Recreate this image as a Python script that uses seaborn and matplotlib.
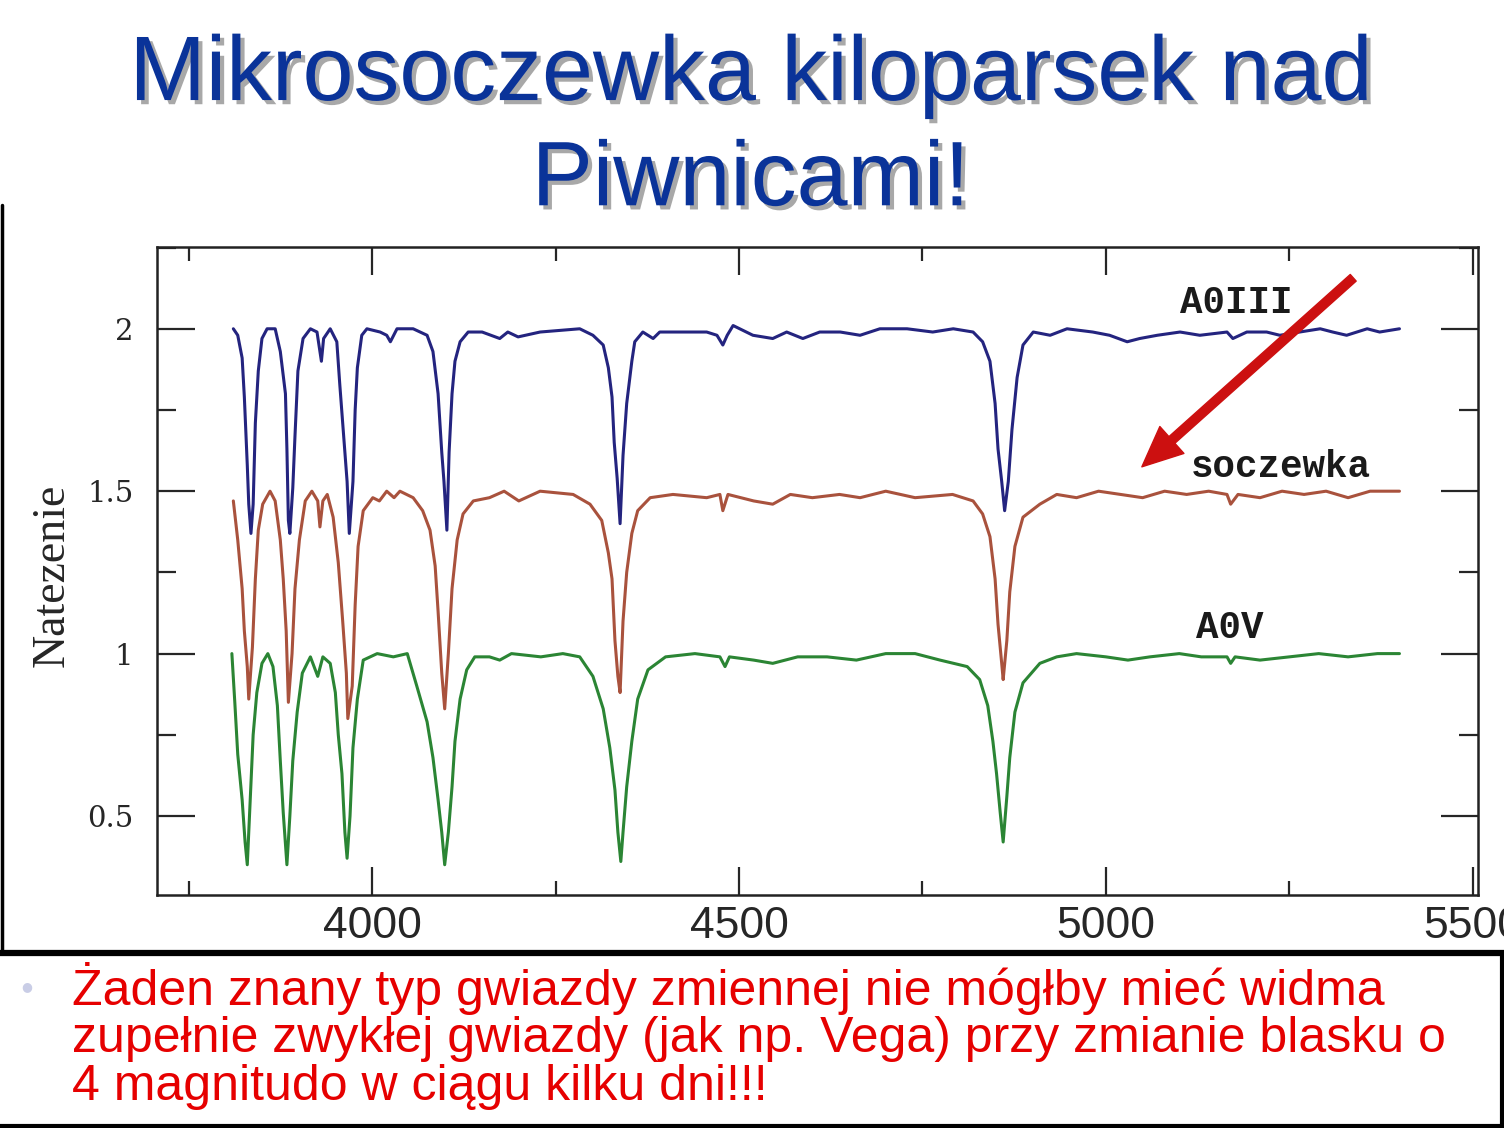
import pandas as pd
import matplotlib
matplotlib.use("Agg")
import matplotlib.pyplot as plt
import matplotlib.patheffects as pe
from matplotlib.lines import Line2D
from matplotlib.ticker import MultipleLocator
import seaborn as sns

# --- dane ---
wl_a0iii = [3811, 3817, 3823, 3826, 3830, 3832, 3835, 3838, 3841, 3845, 3850, 3857,
            3868, 3875, 3882, 3884, 3886, 3888, 3892, 3895, 3899, 3906, 3916, 3925,
            3931, 3934, 3943, 3952, 3956, 3962, 3966, 3969, 3974, 3977, 3980, 3986,
            3993, 4011, 4020, 4025, 4034, 4056, 4075, 4083, 4090, 4095, 4098, 4102,
            4105, 4109, 4113, 4120, 4131, 4150, 4174, 4185, 4199, 4229, 4283, 4301,
            4315, 4322, 4327, 4330, 4334, 4338, 4342, 4347, 4354, 4358, 4369, 4383,
            4392, 4420, 4456, 4470, 4478, 4484, 4492, 4519, 4546, 4565, 4587, 4610,
            4638, 4665, 4692, 4729, 4764, 4792, 4819, 4832, 4842, 4849, 4853, 4858,
            4862, 4867, 4872, 4879, 4887, 4901, 4924, 4947, 4982, 5005, 5029, 5046,
            5070, 5101, 5128, 5165, 5173, 5192, 5219, 5237, 5264, 5292, 5309, 5328,
            5356, 5373, 5400]
fl_a0iii = [2.00, 1.98, 1.91, 1.79, 1.58, 1.46, 1.37, 1.46, 1.71, 1.87, 1.97, 2.00,
            2.00, 1.93, 1.80, 1.63, 1.41, 1.37, 1.51, 1.67, 1.87, 1.97, 2.00, 1.99,
            1.90, 1.97, 2.00, 1.96, 1.83, 1.65, 1.53, 1.37, 1.53, 1.75, 1.88, 1.98,
            2.00, 1.99, 1.98, 1.96, 2.00, 2.00, 1.98, 1.93, 1.80, 1.62, 1.53, 1.38,
            1.62, 1.80, 1.90, 1.96, 1.99, 1.99, 1.97, 1.99, 1.975, 1.99, 2.00, 1.98,
            1.95, 1.88, 1.79, 1.65, 1.54, 1.40, 1.61, 1.77, 1.90, 1.96, 1.99, 1.97,
            1.99, 1.99, 1.99, 1.98, 1.95, 1.98, 2.01, 1.98, 1.97, 1.99, 1.97, 1.99,
            1.99, 1.98, 2.00, 2.00, 1.99, 2.00, 1.99, 1.96, 1.90, 1.77, 1.63, 1.53,
            1.44, 1.53, 1.69, 1.85, 1.95, 1.99, 1.98, 2.00, 1.99, 1.98, 1.96, 1.97,
            1.98, 1.99, 1.98, 1.99, 1.97, 1.99, 1.99, 1.98, 1.99, 2.00, 1.99, 1.98,
            2.00, 1.99, 2.00]

wl_socz = [3811, 3817, 3823, 3826, 3830, 3832, 3837, 3841, 3845, 3851, 3861, 3868,
           3875, 3879, 3883, 3886, 3891, 3895, 3901, 3909, 3918, 3926, 3929, 3933,
           3939, 3947, 3954, 3960, 3965, 3967, 3973, 3977, 3981, 3988, 4001, 4010,
           4020, 4030, 4038, 4056, 4069, 4079, 4086, 4090, 4095, 4099, 4104, 4109,
           4116, 4124, 4138, 4160, 4180, 4200, 4229, 4274, 4297, 4313, 4322, 4327,
           4331, 4335, 4338, 4342, 4347, 4354, 4362, 4379, 4410, 4456, 4474, 4478,
           4485, 4520, 4546, 4570, 4600, 4637, 4665, 4700, 4740, 4791, 4819, 4832,
           4842, 4849, 4853, 4858, 4860, 4865, 4869, 4876, 4887, 4910, 4933, 4960,
           4990, 5020, 5050, 5080, 5110, 5140, 5165, 5170, 5180, 5210, 5240, 5270,
           5300, 5330, 5360, 5400]
fl_socz = [1.47, 1.35, 1.20, 1.07, 0.96, 0.86, 1.02, 1.23, 1.38, 1.46, 1.50, 1.47,
           1.35, 1.23, 1.07, 0.85, 1.00, 1.20, 1.35, 1.47, 1.50, 1.47, 1.39, 1.47,
           1.49, 1.42, 1.28, 1.10, 0.94, 0.80, 0.90, 1.15, 1.33, 1.44, 1.48, 1.47,
           1.50, 1.48, 1.50, 1.48, 1.44, 1.38, 1.27, 1.13, 0.94, 0.83, 1.00, 1.20,
           1.35, 1.43, 1.47, 1.48, 1.50, 1.47, 1.50, 1.49, 1.46, 1.41, 1.31, 1.23,
           1.04, 0.93, 0.88, 1.10, 1.25, 1.37, 1.44, 1.48, 1.49, 1.48, 1.49, 1.44,
           1.49, 1.47, 1.46, 1.49, 1.48, 1.49, 1.48, 1.50, 1.48, 1.49, 1.47, 1.43,
           1.36, 1.23, 1.09, 0.97, 0.92, 1.04, 1.19, 1.33, 1.42, 1.46, 1.49, 1.48,
           1.50, 1.49, 1.48, 1.50, 1.49, 1.50, 1.49, 1.46, 1.49, 1.48, 1.50, 1.49,
           1.50, 1.48, 1.50, 1.50]

wl_a0v = [3809, 3813, 3817, 3823, 3827, 3830, 3834, 3838, 3843, 3850, 3858, 3865,
          3871, 3875, 3879, 3884, 3888, 3892, 3898, 3905, 3916, 3926, 3933, 3943,
          3950, 3954, 3959, 3963, 3966, 3970, 3974, 3980, 3988, 4007, 4029, 4048,
          4061, 4075, 4083, 4090, 4095, 4099, 4104, 4109, 4113, 4120, 4129, 4140,
          4160, 4174, 4190, 4230, 4260, 4283, 4301, 4315, 4324, 4331, 4335, 4339,
          4342, 4347, 4354, 4362, 4376, 4400, 4440, 4474, 4481, 4487, 4520, 4546,
          4580, 4620, 4660, 4700, 4740, 4774, 4811, 4828, 4839, 4846, 4851, 4856,
          4860, 4865, 4869, 4876, 4887, 4910, 4933, 4960, 5000, 5030, 5060, 5100,
          5130, 5165, 5170, 5176, 5210, 5250, 5290, 5330, 5370, 5400]
fl_a0v = [1.00, 0.85, 0.69, 0.55, 0.42, 0.35, 0.55, 0.75, 0.88, 0.97, 1.00, 0.96,
          0.84, 0.67, 0.51, 0.35, 0.50, 0.67, 0.82, 0.94, 0.99, 0.93, 0.99, 0.97,
          0.88, 0.75, 0.63, 0.45, 0.37, 0.50, 0.71, 0.86, 0.98, 1.00, 0.99, 1.00,
          0.90, 0.79, 0.68, 0.55, 0.45, 0.35, 0.45, 0.59, 0.73, 0.86, 0.95, 0.99,
          0.99, 0.98, 1.00, 0.99, 1.00, 0.99, 0.93, 0.83, 0.71, 0.58, 0.45, 0.36,
          0.45, 0.59, 0.73, 0.86, 0.95, 0.99, 1.00, 0.99, 0.96, 0.99, 0.98, 0.97,
          0.99, 0.99, 0.98, 1.00, 1.00, 0.98, 0.96, 0.92, 0.84, 0.73, 0.63, 0.51,
          0.42, 0.56, 0.68, 0.82, 0.91, 0.97, 0.99, 1.00, 0.99, 0.98, 0.99, 1.00,
          0.99, 0.99, 0.97, 0.99, 0.98, 0.99, 1.00, 0.99, 1.00, 1.00]

series_names = ["A0III", "soczewka", "A0V"]
series_colors = ["#24247f", "#a9523d", "#2b8534"]
x_ticks = [4000, 4500, 5000, 5500]
x_ticklabels = ["4000", "4500", "5000", "5500"]
y_ticks = [0.5, 1.0, 1.5, 2.0]
y_ticklabels = ["0.5", "1", "1.5", "2"]

title_lines = ["Mikrosoczewka kiloparsek nad", "Piwnicami!"]
bottom_lines = ["Żaden znany typ gwiazdy zmiennej nie mógłby mieć widma",
                "zupełnie zwykłej gwiazdy (jak np. Vega) przy zmianie blasku o",
                "4 magnitudo w ciągu kilku dni!!!"]

df = pd.concat([
    pd.DataFrame({"wavelength": wl_a0iii, "flux": fl_a0iii, "star": "A0III"}),
    pd.DataFrame({"wavelength": wl_socz, "flux": fl_socz, "star": "soczewka"}),
    pd.DataFrame({"wavelength": wl_a0v, "flux": fl_a0v, "star": "A0V"}),
], ignore_index=True)

sns.set_style("ticks")
plt.rcParams["font.family"] = ["Liberation Sans", "DejaVu Sans"]

fig = plt.figure(figsize=(15.04, 11.28), dpi=100)
fig.patch.set_facecolor("white")
ax = fig.add_axes([0.1044, 0.2066, 0.8783, 0.5745])

sns.lineplot(data=df, x="wavelength", y="flux", hue="star", hue_order=series_names,
             palette=series_colors, sort=False, estimator=None, legend=False,
             linewidth=2.2, ax=ax)

ax.set_xlim(3707, 5507)
ax.set_ylim(0.257, 2.252)
ax.set_xticks(x_ticks)
ax.set_xticklabels(x_ticklabels, fontsize=32, fontfamily=["Liberation Sans", "DejaVu Sans"])
ax.set_yticks(y_ticks)
ax.set_yticklabels(y_ticklabels, fontsize=21, fontfamily=["DejaVu Serif"])
ax.xaxis.set_minor_locator(MultipleLocator(250))
ax.yaxis.set_minor_locator(MultipleLocator(0.25))
ax.tick_params(axis="x", which="major", direction="in", top=True, length=20, width=1.6, pad=8)
ax.tick_params(axis="x", which="minor", direction="in", top=True, length=10, width=1.6)
ax.tick_params(axis="y", which="major", direction="in", right=True, length=27, width=1.6, pad=17)
ax.tick_params(axis="y", which="minor", direction="in", right=True, length=14, width=1.6)
for s in ax.spines.values():
    s.set_visible(True)
    s.set_linewidth(1.8)
    s.set_color("#222222")

ax.set_xlabel("")
ax.set_ylabel("Natezenie", fontsize=33, fontfamily=["Liberation Serif", "DejaVu Serif"])
ax.yaxis.set_label_coords(-0.063, 0.494)

# podpisy widm
label_font = dict(fontsize=27, fontfamily=["Liberation Mono", "DejaVu Sans Mono"],
                  fontweight="bold", ha="center", va="baseline", color="#1a1a1a")
ax.text(5178, 2.049, "A0III", **label_font)
ax.text(5238, 1.545, "soczewka", **label_font)
ax.text(5169, 1.049, "A0V", **label_font)

# czerwona strzałka
ax.annotate("", xy=(5049, 1.575), xytext=(5337, 2.157),
            arrowprops=dict(arrowstyle="simple,head_length=1.45,head_width=1.3,tail_width=0.32",
                            color="#cc1010", mutation_scale=20, shrinkA=0, shrinkB=0))

# tytuł z cieniem
shadow = [pe.withSimplePatchShadow(offset=(3, -3), shadow_rgbFace="#a8a8a8", alpha=1.0)]
fig.text(0.499, 0.9113, title_lines[0], ha="center", va="baseline", fontsize=66,
         color="#0a3399", path_effects=shadow)
fig.text(0.499, 0.818, title_lines[1], ha="center", va="baseline", fontsize=66,
         color="#0a3399", path_effects=shadow)

# tekst na dole
for txt, yb in zip(bottom_lines, [0.1090, 0.0674, 0.0248]):
    fig.text(0.048, yb, txt, ha="left", va="baseline", fontsize=36, color="#e60000")
fig.text(0.018, 0.125, "●", ha="center", va="center", fontsize=9, color="#c9cde6",
         fontfamily=["DejaVu Sans"])

# ramki slajdu
fig.add_artist(Line2D([0.0012, 0.0012], [0.818, 0.155], transform=fig.transFigure,
                      color="black", lw=2.5))
fig.add_artist(Line2D([0, 1], [0.1555, 0.1555], transform=fig.transFigure,
                      color="black", lw=4.5))
fig.add_artist(Line2D([0.9985, 0.9985], [0.1555, 0], transform=fig.transFigure,
                      color="black", lw=3))
fig.add_artist(Line2D([0, 1], [0.0015, 0.0015], transform=fig.transFigure,
                      color="black", lw=3))

fig.savefig("out.png", dpi=100, facecolor="white")
